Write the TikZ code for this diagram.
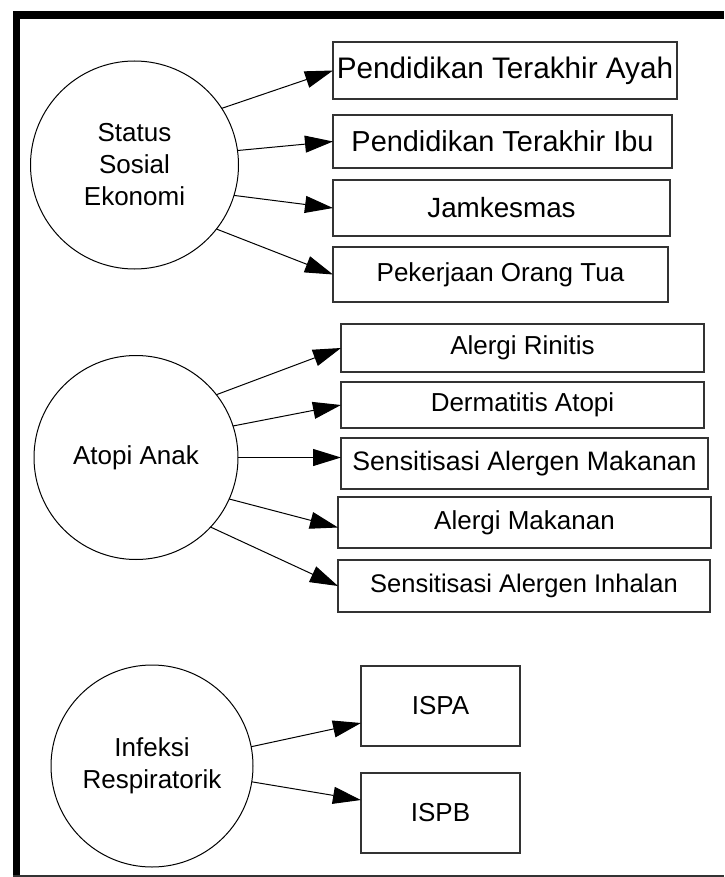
\documentclass[tikz,border=0pt]{standalone}
\usepackage{fontspec}
\setmainfont{Liberation Sans}
\usepackage{tikz}
\usetikzlibrary{positioning}
\usetikzlibrary{shapes,arrows.meta,calc}

\begin{document}
\begin{tikzpicture}[x=1pt, y=-1pt, outer sep = 0pt]
\tikzstyle{konstruk}=[
                  draw=black,
                  circle,
                  line width=1pt,
                  align=center,
                  font=\fontsize{26}{32}\selectfont]

\tikzstyle{indikator}=[
                  draw=black!80,
                  rectangle,
                  line width=2pt,
                  font=\fontsize{26}{32}\selectfont,
                  anchor=north west]

\tikzstyle{panah}=[
                  -{Triangle[length=28pt,width=17pt]},
                  line width=1pt]

\useasboundingbox (0,0) rectangle (724,877);

% bingkai
\fill[black] (13,11) rectangle (20,877);
\fill[black] (13,11) rectangle (724,19);
\draw[black!80,line width=2pt] (13,876) -- (724,876);

\node[konstruk] (ses)     at(134.5,165) [minimum size=208pt] {Status\\Sosial\\Ekonomi};
\node[konstruk] (atopi)   at(136,457.5) [minimum size=204pt] {Atopi Anak};
\node[konstruk] (infeksi) at(152,766)   [minimum size=202pt] {Infeksi\\Respiratorik};

\node[indikator] (ayah)   at(333,42)  [minimum width=344pt, minimum height=57pt, font=\fontsize{29.7}{32}\selectfont] {Pendidikan Terakhir Ayah};
\node[indikator] (ibu)    at(333,115) [minimum width=339pt, minimum height=53pt, font=\fontsize{28.9}{32}\selectfont] {Pendidikan Terakhir Ibu};
\node[indikator] (jamkes) at(333,180) [minimum width=337pt, minimum height=56pt, font=\fontsize{27.8}{32}\selectfont] {Jamkesmas};
\node[indikator] (kerja)  at(333,247) [minimum width=335pt, minimum height=55pt] {Pekerjaan Orang Tua};

\node[indikator] (rinitis)    at(341,324) [minimum width=363pt, minimum height=48pt] {Alergi Rinitis};
\node[indikator] (dermatitis) at(341,382) [minimum width=363pt, minimum height=46pt] {Dermatitis Atopi};
\node[indikator] (sam)        at(341,438) [minimum width=367pt, minimum height=51pt, font=\fontsize{26.7}{32}\selectfont] {Sensitisasi Alergen Makanan};
\node[indikator] (makanan)    at(338,497) [minimum width=373pt, minimum height=51pt] {Alergi Makanan};
\node[indikator] (sai)        at(338,560) [minimum width=372pt, minimum height=52pt, font=\fontsize{25.5}{32}\selectfont] {Sensitisasi Alergen Inhalan};

\node[indikator] (ispa) at(361,666) [minimum width=159pt, minimum height=80pt] {ISPA};
\node[indikator] (ispb) at(361,773) [minimum width=159pt, minimum height=80pt] {ISPB};

\draw[panah] (ses.33)  -- (ayah.west);
\draw[panah] (ses.8)   -- (ibu.west);
\draw[panah] (ses.-17) -- (jamkes.west);
\draw[panah] (ses.-38) -- (kerja.west);

\draw[panah] (atopi.38)  -- (rinitis.west);
\draw[panah] (atopi.18)  -- (dermatitis.west);
\draw[panah] (atopi.east) -- (atopi.east -| sam.west);
\draw[panah] (atopi.-24) -- ([yshift=-5pt]makanan.west);
\draw[panah] (atopi.-43) -- (sai.west);

\draw[panah] (infeksi.11) -- ([yshift=-17pt]ispa.west);
\draw[panah] (infeksi.-9) -- ([yshift=13pt]ispb.west);

\end{tikzpicture}
\end{document}
